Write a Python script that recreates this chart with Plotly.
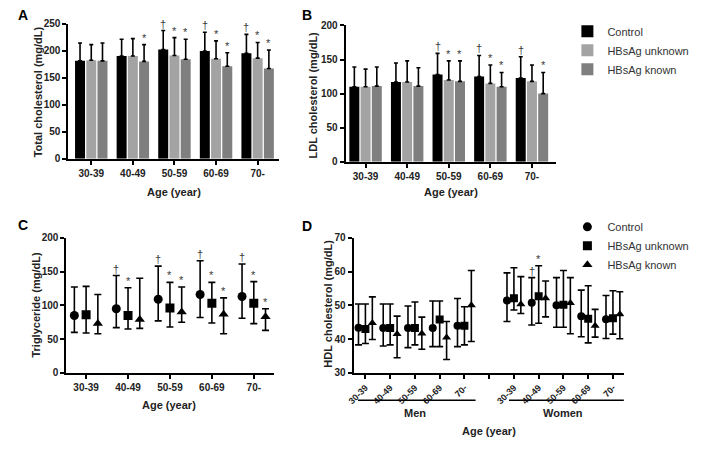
import plotly.graph_objects as go

W, H = 706, 452
def px(x): return x / W
def py(y): return 1 - y / H

ages = ["30-39", "40-49", "50-59", "60-69", "70-"]
series = ["Control", "HBsAg unknown", "HBsAg known"]
bar_colors = ["#000000", "#a3a3a3", "#7f7f7f"]
symbols = ["circle", "square", "triangle-up"]

# Panel A: total cholesterol (mean, upper error)
tc_control = [181, 190, 202, 199, 195]
tc_control_err = [33, 31, 35, 35, 35]
tc_unknown = [182, 190, 191, 185, 186]
tc_unknown_err = [29, 32, 33, 33, 29]
tc_known = [181, 180, 184, 171, 167]
tc_known_err = [33, 31, 37, 25, 34]
tc_sig_control = ["", "", "†", "†", "†"]
tc_sig_unknown = ["", "", "*", "*", "*"]
tc_sig_known = ["", "*", "*", "*", "*"]

# Panel B: LDL cholesterol
ldl_control = [110, 117, 128, 125, 123]
ldl_control_err = [29, 28, 31, 31, 31]
ldl_unknown = [110, 117, 120, 115, 118]
ldl_unknown_err = [26, 31, 28, 27, 24]
ldl_known = [111, 111, 118, 110, 100]
ldl_known_err = [28, 27, 30, 21, 31]
ldl_sig_control = ["", "", "†", "†", "†"]
ldl_sig_unknown = ["", "", "*", "*", ""]
ldl_sig_known = ["", "", "*", "*", "*"]

# Panel C: triglyceride (centre, upper, lower)
tg_control = [85, 95, 109, 116, 113]
tg_control_hi = [127, 144, 158, 166, 161]
tg_control_lo = [60, 67, 77, 82, 81]
tg_unknown = [86, 85, 96, 103, 103]
tg_unknown_hi = [128, 126, 134, 134, 135]
tg_unknown_lo = [59, 65, 68, 74, 73]
tg_known = [73, 79, 90, 87, 83]
tg_known_hi = [116, 140, 127, 111, 95]
tg_known_lo = [58, 66, 75, 58, 63]
tg_sig_control = ["", "†", "†", "†", "†"]
tg_sig_unknown = ["", "*", "*", "*", "*"]
tg_sig_known = ["", "", "*", "*", "*"]

# Panel D: HDL cholesterol, men then women
hdl_labels = ["30-39", "40-49", "50-59", "60-69", "70-", "", "30-39", "40-49", "50-59", "60-69", "70-"]
hdl_slots = [0, 1, 2, 3, 4, 6, 7, 8, 9, 10]
hdl_control = [43.4, 43.3, 43.3, 43.3, 44.0, 51.4, 50.8, 50.0, 46.8, 45.9]
hdl_control_hi = [50.4, 50.4, 49.8, 51.3, 52.0, 59.6, 58.2, 58.2, 54.5, 52.9]
hdl_control_lo = [38.3, 38.0, 37.5, 37.8, 37.8, 45.2, 44.2, 43.5, 40.7, 40.2]
hdl_unknown = [43.0, 43.3, 43.3, 45.8, 44.0, 52.1, 52.7, 50.2, 46.0, 46.2]
hdl_unknown_hi = [50.4, 50.4, 51.0, 51.3, 49.6, 61.1, 61.7, 60.3, 55.8, 54.3]
hdl_unknown_lo = [38.7, 38.3, 38.3, 37.8, 38.3, 48.6, 44.7, 43.5, 38.9, 41.5]
hdl_known = [44.8, 41.5, 41.7, 40.5, 50.0, 50.3, 52.1, 50.7, 44.0, 47.4]
hdl_known_hi = [52.5, 46.8, 46.5, 45.2, 60.3, 58.5, 57.2, 58.2, 48.8, 54.0]
hdl_known_lo = [39.9, 34.5, 37.0, 34.0, 39.3, 47.6, 46.6, 41.6, 40.6, 40.1]
hdl_sig_control = ["", "", "", "", "", "", "†", "", "", ""]
hdl_sig_unknown = ["", "", "", "", "", "", "*", "", "", ""]

FONT = "Liberation Sans, Arial, sans-serif"
fig = go.Figure()
annotations = []

def add_sig(xs, tops, sigs, xref, yref):
    for x, t, s in zip(xs, tops, sigs):
        if s:
            annotations.append(dict(x=x, y=t, xref=xref, yref=yref, text=s, showarrow=False,
                                    yanchor="bottom", yshift=-1,
                                    font=dict(family=FONT, size=11, color="#3a3a3a")))

# Bar panels
OFF, BW = 0.27, 0.24
bar_sets = [
    ("x", "y", [tc_control, tc_unknown, tc_known], [tc_control_err, tc_unknown_err, tc_known_err],
     [tc_sig_control, tc_sig_unknown, tc_sig_known], True),
    ("x2", "y2", [ldl_control, ldl_unknown, ldl_known], [ldl_control_err, ldl_unknown_err, ldl_known_err],
     [ldl_sig_control, ldl_sig_unknown, ldl_sig_known], False),
]
for xa, ya, means, errs, sigs, showleg in bar_sets:
    for j in range(3):
        xs = [i + (j - 1) * OFF for i in range(len(ages))]
        fig.add_trace(go.Bar(
            x=xs, y=means[j], width=BW, name=series[j], marker=dict(color=bar_colors[j], line=dict(width=0)),
            error_y=dict(type="data", symmetric=False, array=errs[j], arrayminus=[0] * len(ages),
                         color="#000000", thickness=1.6, width=2),
            xaxis=xa, yaxis=ya, showlegend=showleg, legend="legend"))
        add_sig(xs, [m + e for m, e in zip(means[j], errs[j])], sigs[j], xa, ya)

# Triglyceride panel
MOFF = 0.28
tg_sets = [(tg_control, tg_control_hi, tg_control_lo, tg_sig_control),
           (tg_unknown, tg_unknown_hi, tg_unknown_lo, tg_sig_unknown),
           (tg_known, tg_known_hi, tg_known_lo, tg_sig_known)]
for j, (c, hi, lo, sg) in enumerate(tg_sets):
    xs = [i + (j - 1) * MOFF for i in range(len(ages))]
    fig.add_trace(go.Scatter(
        x=xs, y=c, mode="markers", name=series[j],
        marker=dict(symbol=symbols[j], size=9, color="#000000"),
        error_y=dict(type="data", symmetric=False,
                     array=[h - v for h, v in zip(hi, c)], arrayminus=[v - l for v, l in zip(c, lo)],
                     color="#000000", thickness=1.6, width=3.5),
        xaxis="x3", yaxis="y3", showlegend=True, legend="legend2"))
    add_sig(xs, hi, sg, "x3", "y3")

# HDL panel
hdl_sets = [(hdl_control, hdl_control_hi, hdl_control_lo, hdl_sig_control),
            (hdl_unknown, hdl_unknown_hi, hdl_unknown_lo, hdl_sig_unknown),
            (hdl_known, hdl_known_hi, hdl_known_lo, [""] * len(hdl_slots))]
for j, (c, hi, lo, sg) in enumerate(hdl_sets):
    xs = [s + (j - 1) * MOFF for s in hdl_slots]
    fig.add_trace(go.Scatter(
        x=xs, y=c, mode="markers", name=series[j],
        marker=dict(symbol=symbols[j], size=8, color="#000000"),
        error_y=dict(type="data", symmetric=False,
                     array=[h - v for h, v in zip(hi, c)], arrayminus=[v - l for v, l in zip(c, lo)],
                     color="#000000", thickness=1.6, width=3.5),
        xaxis="x4", yaxis="y4", showlegend=False))
    add_sig(xs, hi, sg, "x4", "y4")

tickfont = dict(family=FONT, size=10, color="#222222", weight="bold")
ax_common = dict(showline=True, linecolor="#000000", linewidth=2, ticks="outside", ticklen=4,
                 tickwidth=1.5, tickcolor="#000000", showgrid=False, zeroline=False,
                 fixedrange=True)

fig.update_layout(
    xaxis=dict(domain=[px(62), px(275)], range=[-0.55, 4.52], tickvals=list(range(5)), ticktext=ages,
               anchor="y", tickfont=tickfont, **ax_common),
    yaxis=dict(domain=[py(157), py(18)], range=[0, 250], dtick=50, anchor="x", tickfont=tickfont, **ax_common),
    xaxis2=dict(domain=[px(342), px(555)], range=[-0.48, 4.59], tickvals=list(range(5)), ticktext=ages,
                anchor="y2", tickfont=tickfont, **ax_common),
    yaxis2=dict(domain=[py(160), py(20)], range=[0, 200], dtick=50, anchor="x2", tickfont=tickfont, **ax_common),
    xaxis3=dict(domain=[px(60), px(270)], range=[-0.47, 4.49], tickvals=list(range(5)), ticktext=ages,
                anchor="y3", tickfont=tickfont, **ax_common),
    yaxis3=dict(domain=[py(377), py(238)], range=[0, 200], dtick=50, anchor="x3", tickfont=tickfont, **ax_common),
    xaxis4=dict(domain=[px(350), px(623)], range=[-0.48, 10.44], tickvals=list(range(11)),
                ticktext=hdl_labels, tickangle=-45, anchor="y4",
                tickfont=dict(family=FONT, size=9, color="#222222", weight="bold"), **ax_common),
    yaxis4=dict(domain=[py(377), py(238)], range=[30, 70], dtick=10, anchor="x4", tickfont=tickfont, **ax_common),
)

def txt(x, y, s, size=11, angle=0, bold=True, xref="paper", color="#222222"):
    annotations.append(dict(x=x, y=y, xref=xref, yref="paper", text=s, showarrow=False, textangle=angle,
                            xanchor="center", yanchor="middle",
                            font=dict(family=FONT, size=size, color=color, weight="bold" if bold else "normal")))

# axis titles
txt(px(31), py(88), "Total cholesterol (mg/dL)", angle=-90)
txt(px(309), py(91), "LDL cholesterol (mg/dL)", angle=-90)
txt(px(29), py(307), "Triglyceride (mg/dL)", angle=-90)
txt(px(324), py(306), "HDL cholesterol (mg/dL)", angle=-90)
txt(px(169), py(191), "Age (year)")
txt(px(448), py(191), "Age (year)")
txt(px(164), py(410), "Age (year)")
txt(px(487), py(437), "Age (year)")
txt(2, py(418), "Men", xref="x4")
txt(8, py(418), "Women", xref="x4")
# panel letters
txt(px(16), py(9), "A", size=14, color="#000000")
txt(px(303), py(9), "B", size=14, color="#000000")
txt(px(16), py(225), "C", size=14, color="#000000")
txt(px(303), py(226), "D", size=14, color="#000000")

shapes = [
    dict(type="line", xref="x4", yref="paper", x0=-0.3, x1=4.45, y0=py(405), y1=py(405),
         line=dict(color="#000000", width=1.5)),
    dict(type="line", xref="x4", yref="paper", x0=5.8, x1=10.45, y0=py(405), y1=py(405),
         line=dict(color="#000000", width=1.5)),
]

fig.update_layout(
    width=W, height=H, margin=dict(l=0, r=0, t=0, b=0),
    paper_bgcolor="#ffffff", plot_bgcolor="#ffffff",
    annotations=annotations, shapes=shapes,
    legend=dict(x=px(566), y=py(11), xanchor="left", yanchor="top", tracegroupgap=0,
                font=dict(family=FONT, size=11, color="#333333"), itemwidth=30, bgcolor="rgba(0,0,0,0)"),
    legend2=dict(x=px(566), y=py(212), xanchor="left", yanchor="top", tracegroupgap=0,
                 font=dict(family=FONT, size=11, color="#333333"), itemwidth=30, bgcolor="rgba(0,0,0,0)"),
)

fig.write_html("out.html")
